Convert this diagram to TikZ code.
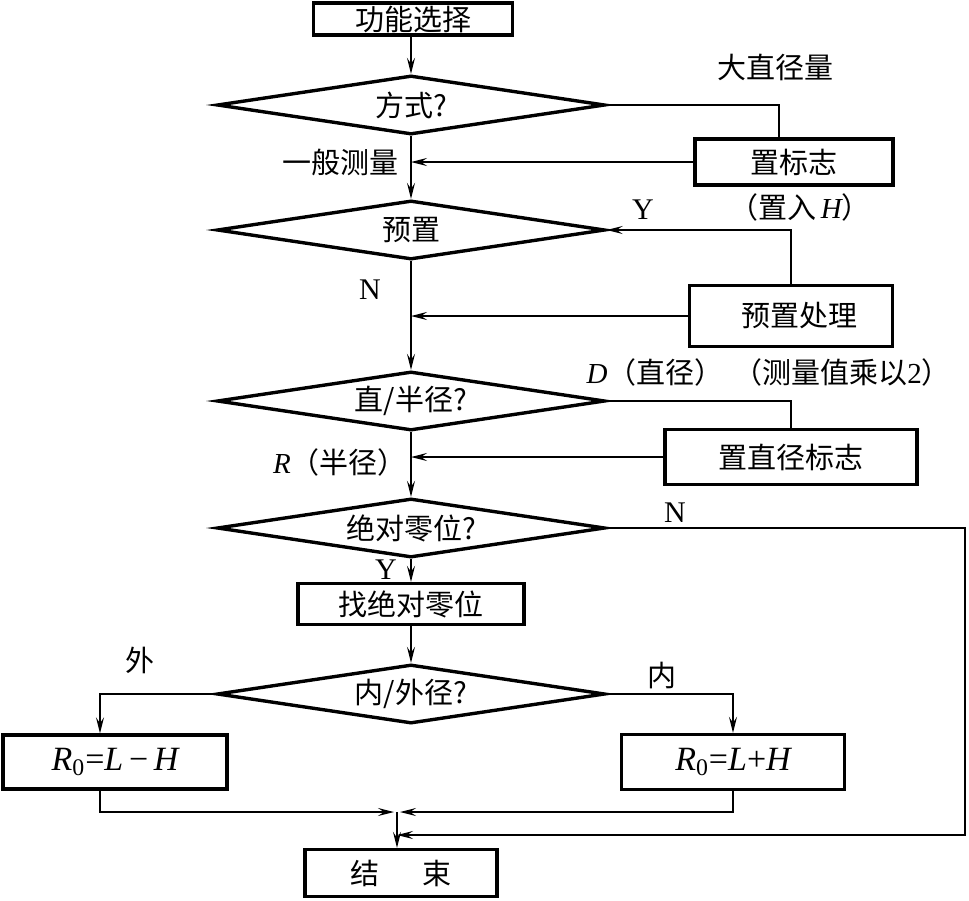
\documentclass[tikz,border=0pt]{standalone}
\usepackage{fontspec}
\setmainfont{Liberation Serif}
\newfontfamily\cjk{Noto Sans CJK SC}
\usetikzlibrary{shapes.geometric,arrows.meta}
\newcommand{\itl}[1]{{\rmfamily\itshape #1}}
\tikzset{flowbox/.style={draw, line width=1.7pt, inner sep=0pt},
  flowdia/.style={draw, diamond, aspect=6, line width=1.7pt, inner sep=0pt, minimum width=194pt, minimum height=29.5pt},
  flowline/.style={line width=0.75pt},
  flowarrow/.style={flowline, -{Stealth[length=8pt, width=4pt, inset=3pt]}},
  lbl/.style={inner sep=0pt},
  latin/.style={inner sep=0pt, font=\rmfamily\fontsize{15}{17}\selectfont}}

\begin{document}
\begin{tikzpicture}[x=0.5pt, y=-0.5pt, font=\cjk\fontsize{14.5}{16}\selectfont]
\useasboundingbox (0,0) rectangle (969,900);
% main column
\node[flowbox, minimum width=99.5pt, minimum height=16pt] (sel) at (413,19) {功能选择};
\node[flowdia] (mode) at (411,105) {方式?};
\node[flowdia] (pre) at (411,230) {预置};
\node[flowdia] (dr) at (411,401) {直/半径?};
\node[flowdia] (zero) at (411,528) {绝对零位?};
\node[flowbox, minimum width=113pt, minimum height=20.5pt] (find) at (411,604) {找绝对零位};
\node[flowdia] (io) at (411,694) {内/外径?};
\node[flowbox, minimum width=112pt, minimum height=27pt, font=\rmfamily\fontsize{17}{19}\selectfont] (out) at (115,762) {\itl{R}\textsubscript{0}=\itl{L}\,−\,\itl{H}};
\node[flowbox, minimum width=111.5pt, minimum height=27.5pt, font=\rmfamily\fontsize{17}{19}\selectfont] (in) at (733,762) {\itl{R}\textsubscript{0}=\itl{L}+\itl{H}};
\node[flowbox, minimum width=96pt, minimum height=23.5pt] (endb) at (401,873) {结\hspace{1.5em}束};
% side boxes
\node[flowbox, minimum width=99pt, minimum height=23pt] (flagH) at (794,162) {置标志};
\node[flowbox, minimum width=101.5pt, minimum height=30.5pt] (preproc) at (791,316) {\hspace{8pt}预置处理};
\node[flowbox, minimum width=126pt, minimum height=27.5pt] (flagD) at (791,457) {置直径标志};
\coordinate (join) at (397,812);
\coordinate (nret) at (965,835);
% connectors
\draw[flowarrow] (sel.south -| mode.north) -- (mode.north);
\draw[flowarrow] (mode.south) -- (pre.north);
\draw[flowarrow] (pre.south) -- (dr.north);
\draw[flowarrow] (dr.south) -- (zero.north);
\draw[flowarrow] (zero.south) -- (find.north);
\draw[flowarrow] (find.south) -- (io.north);
\draw[flowline] (mode.east) -| ([xshift=-7.5pt]flagH.north);
\draw[flowarrow] (flagH.west) -- (flagH.west -| mode.south);
\draw[flowarrow] (preproc.north) |- (pre.east);
\draw[flowarrow] (preproc.west) -- (preproc.west -| pre.south);
\draw[flowline] (dr.east) -| (flagD.north);
\draw[flowarrow] (flagD.west) -- (flagD.west -| dr.south);
\draw[flowarrow] (io.west) -| ([xshift=-7.5pt]out.north);
\draw[flowarrow] (io.east) -| (in.north);
\draw[flowarrow] ([xshift=-7.5pt]out.south) |- ([xshift=-1.5pt]join);
\draw[flowarrow] (in.south) |- ([xshift=1.5pt]join);
\draw[flowarrow] (join) -- (join |- endb.north);
\draw[flowarrow] (zero.east) -| (nret) -- (nret -| join);
% labels
\node[lbl] (bigd) at (775,67) {大直径量};
\node[lbl] (gen) at (340,162) {一般测量};
\node[lbl] (seth) at (800,207) {（置入\,\itl{H}）};
\node[latin] (yes1) at (643,210) {Y};
\node[latin] (no1) at (370,290) {N};
\node[lbl] (dia) at (655,372) {\itl{D}（直径）};
\node[lbl] (dbl) at (842,372) {（测量值乘以{\rmfamily 2}）};
\node[lbl] (rad) at (340,462) {\itl{R}（半径）};
\node[latin] (no2) at (675,513) {N};
\node[latin] (yes2) at (386,570) {Y};
\node[lbl] (outer) at (140,660) {外};
\node[lbl] (inner) at (662,675) {内};
\end{tikzpicture}
\end{document}
